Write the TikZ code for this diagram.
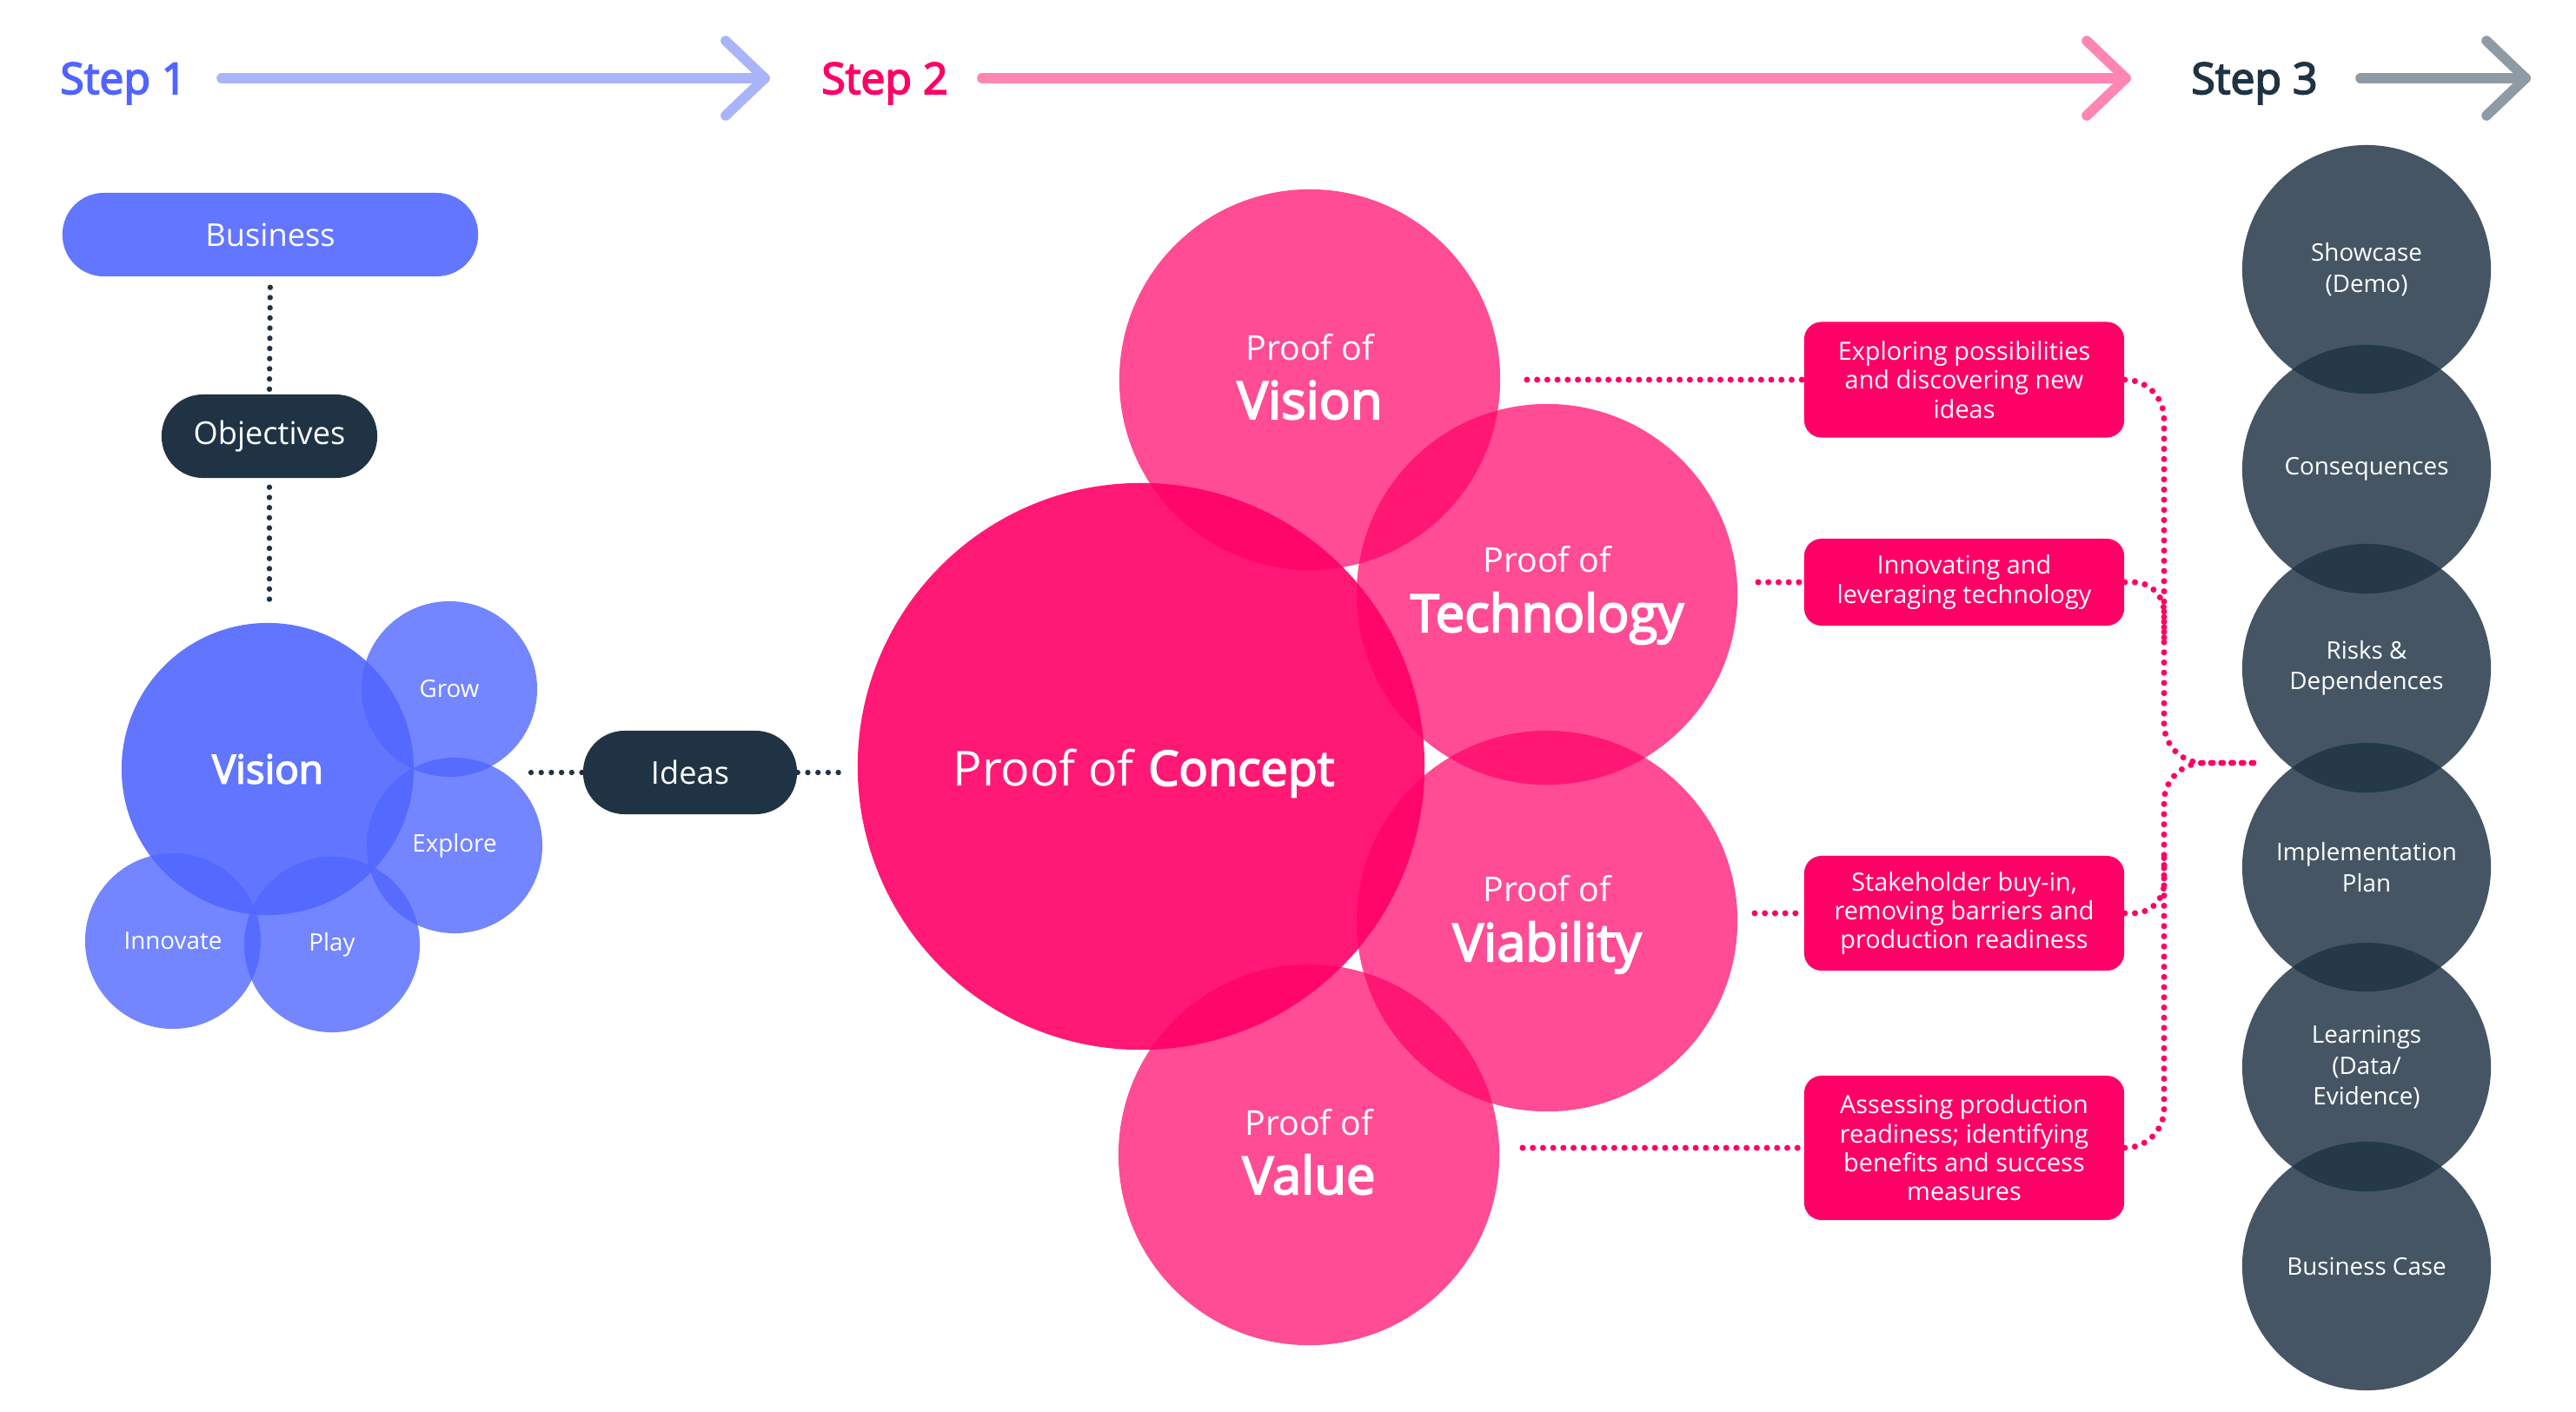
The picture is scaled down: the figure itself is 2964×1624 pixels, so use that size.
\documentclass[tikz,border=0pt]{standalone}
\usepackage{fontspec}
\setmainfont{Open Sans}[AutoFakeBold=3.4]
\usetikzlibrary{calc}
\definecolor{blueBase}{HTML}{5066FF}
\definecolor{bizBlue}{HTML}{6276FF}
\definecolor{stepBlue}{HTML}{5264FF}
\definecolor{arrBlue}{HTML}{AAB4F8}
\definecolor{hotPink}{HTML}{FF0066}
\definecolor{arrPink}{HTML}{FF85B2}
\definecolor{navy}{HTML}{1F3344}
\definecolor{arrGray}{HTML}{8E9BA5}
\begin{document}
\begin{tikzpicture}[x=0.01cm,y=-0.01cm,
  steplabel/.style={anchor=base, inner sep=0pt, font=\fontsize{14.2}{16}\selectfont\bfseries},
  steparrow/.style={line width=3.3pt, line cap=round, line join=round},
  pill/.style={rectangle, rounded corners=0.475cm, minimum height=0.96cm, text=white, inner sep=0pt, font=\fontsize{10.3}{12}\selectfont},
  ddot/.style={navy, line width=1.8pt, line cap=round, dash pattern=on 0pt off 3.33pt},
  pdot/.style={hotPink, line width=2pt, line cap=round, dash pattern=on 0pt off 3.33pt},
  bigblue/.style={circle, fill=blueBase, fill opacity=0.9, text opacity=1, text=white, minimum size=3.36cm, inner sep=0pt, font=\fontsize{13}{15}\selectfont\bfseries},
  smallblue/.style={circle, fill=blueBase, fill opacity=0.8, text opacity=1, text=white, minimum size=2.02cm, inner sep=0pt, font=\fontsize{7.9}{9.5}\selectfont},
  proofc/.style={circle, fill=hotPink, fill opacity=0.7, minimum size=4.38cm, inner sep=0pt},
  pocc/.style={circle, fill=hotPink, fill opacity=0.9, minimum size=6.52cm, inner sep=0pt},
  smallw/.style={anchor=base, inner sep=0pt, text=white, font=\fontsize{11.2}{13}\selectfont},
  bigw/.style={anchor=base, inner sep=0pt, text=white, font=\fontsize{17}{20}\selectfont\bfseries},
  descbox/.style={rectangle, rounded corners=0.2cm, fill=hotPink, text=white, minimum width=3.68cm, align=center, inner sep=0pt, font=\fontsize{8.2}{9.5}\selectfont},
  outc/.style={circle, fill=navy, fill opacity=0.83, text opacity=1, text=white, minimum size=2.86cm, inner sep=0pt, align=center, font=\fontsize{7.9}{10.1}\selectfont}
]
\useasboundingbox (0,0) rectangle (2964,1624);

% ---- step headers
\node[steplabel, text=stepBlue] (st1) at (142,108) {Step 1};
\node[steplabel, text=hotPink] (st2) at (1018,108) {Step 2};
\node[steplabel, text=navy] (st3) at (2594,108) {Step 3};
\coordinate (s1a) at (255,90); \coordinate (s1t) at (880,90);
\coordinate (s2a) at (1130,90); \coordinate (s2t) at (2446,90);
\coordinate (s3a) at (2716,90); \coordinate (s3t) at (2906,90);
\draw[steparrow, arrBlue] (s1a) -- (s1t);
\draw[steparrow, arrBlue] ($(s1t)+(-45,-43)$) -- (s1t) -- ($(s1t)+(-45,43)$);
\draw[steparrow, arrPink] (s2a) -- (s2t);
\draw[steparrow, arrPink] ($(s2t)+(-45,-43)$) -- (s2t) -- ($(s2t)+(-45,43)$);
\draw[steparrow, arrGray] (s3a) -- (s3t);
\draw[steparrow, arrGray] ($(s3t)+(-45,-43)$) -- (s3t) -- ($(s3t)+(-45,43)$);

% ---- step 1
\node[pill, fill=bizBlue, minimum width=4.78cm] (bus) at (311,270) {Business};
\node[pill, fill=navy, minimum width=2.48cm] (obj) at (310,502) {Objectives};
\coordinate (vtop) at (310,700);
\draw[ddot, shorten <=0.12cm] (bus.south) -- (obj.north);
\draw[ddot, shorten <=0.1cm] (obj.south) -- (vtop);

\node[bigblue] (vis) at (308,885) {Vision};
\node[smallblue] (grow) at (517,793) {Grow};
\node[smallblue] (expl) at (523,973) {Explore};
\node[smallblue] (inno) at (199,1083) {Innovate};
\node[smallblue] (play) at (382,1087) {Play};

\node[pill, fill=navy, minimum width=2.46cm] (ideas) at (794,889) {Ideas};
\coordinate (idL) at (611,889); \coordinate (idR) at (972,889);
\draw[ddot] (idL) -- (ideas.west);
\draw[ddot] (ideas.east) -- (idR);

% ---- step 2 circles
\node[pocc] (poc) at (1313,882) {};
\node[proofc] (pvis) at (1507,437) {};
\node[proofc] (ptec) at (1780,684) {};
\node[proofc] (pvia) at (1780,1060) {};
\node[proofc] (pval) at (1506,1329) {};

\node[anchor=base, inner sep=0pt, text=white, font=\fontsize{15.8}{18}\selectfont] (poct) at (1316,904) {Proof of \textbf{Concept}};
\node[smallw] (pvis1) at (1507,414) {Proof of};
\node[bigw] (pvis2) at (1507,482) {Vision};
\node[smallw] (ptec1) at (1780,658) {Proof of};
\node[bigw] (ptec2) at (1780,727) {Technology};
\node[smallw] (pvia1) at (1780,1037) {Proof of};
\node[bigw] (pvia2) at (1780,1106) {Viability};
\node[smallw] (pval1) at (1506,1306) {Proof of};
\node[bigw] (pval2) at (1506,1374) {Value};

% ---- description boxes
\node[descbox, minimum height=1.33cm] (b1) at (2260,437) {Exploring possibilities\\and discovering new\\ideas};
\node[descbox, minimum height=1.00cm] (b2) at (2260,670) {Innovating and\\leveraging technology};
\node[descbox, minimum height=1.32cm] (b3) at (2260,1051) {Stakeholder buy-in,\\removing barriers and\\production readiness};
\node[descbox, minimum height=1.66cm] (b4) at (2260,1321) {Assessing production\\readiness; identifying\\benefits and success\\measures};

\coordinate (c1) at (1757,437);
\coordinate (c2) at (2023,670);
\coordinate (c3) at (2019,1051);
\coordinate (c4) at (1752,1321);
\draw[pdot] (c1) -- (b1.west);
\draw[pdot] (c2) -- (b2.west);
\draw[pdot] (c3) -- (b3.west);
\draw[pdot] (c4) -- (b4.west);

\coordinate (sp) at (2490,878);
\coordinate (jend) at (2596,878);
\coordinate (sp2) at (2490,740);
\coordinate (sp3) at (2490,985);
\draw[pdot, rounded corners=0.45cm] (b1.east) -| (sp) -- (jend);
\draw[pdot, rounded corners=0.45cm] (b4.east) -| (sp) -- (jend);
\draw[pdot, rounded corners=0.35cm] (b2.east) -| (sp2);
\draw[pdot, rounded corners=0.35cm] (b3.east) -| (sp3);

% ---- step 3 outcomes
\node[outc] (o1) at (2723,310) {Showcase\\(Demo)};
\node[outc] (o2) at (2723,540) {Consequences};
\node[outc] (o3) at (2723,769) {Risks \&\\Dependences};
\node[outc] (o4) at (2723,998) {Implementation\\Plan};
\node[outc] (o5) at (2723,1228) {Learnings\\(Data/\\Evidence)};
\node[outc] (o6) at (2723,1457) {Business Case};
\end{tikzpicture}
\end{document}
